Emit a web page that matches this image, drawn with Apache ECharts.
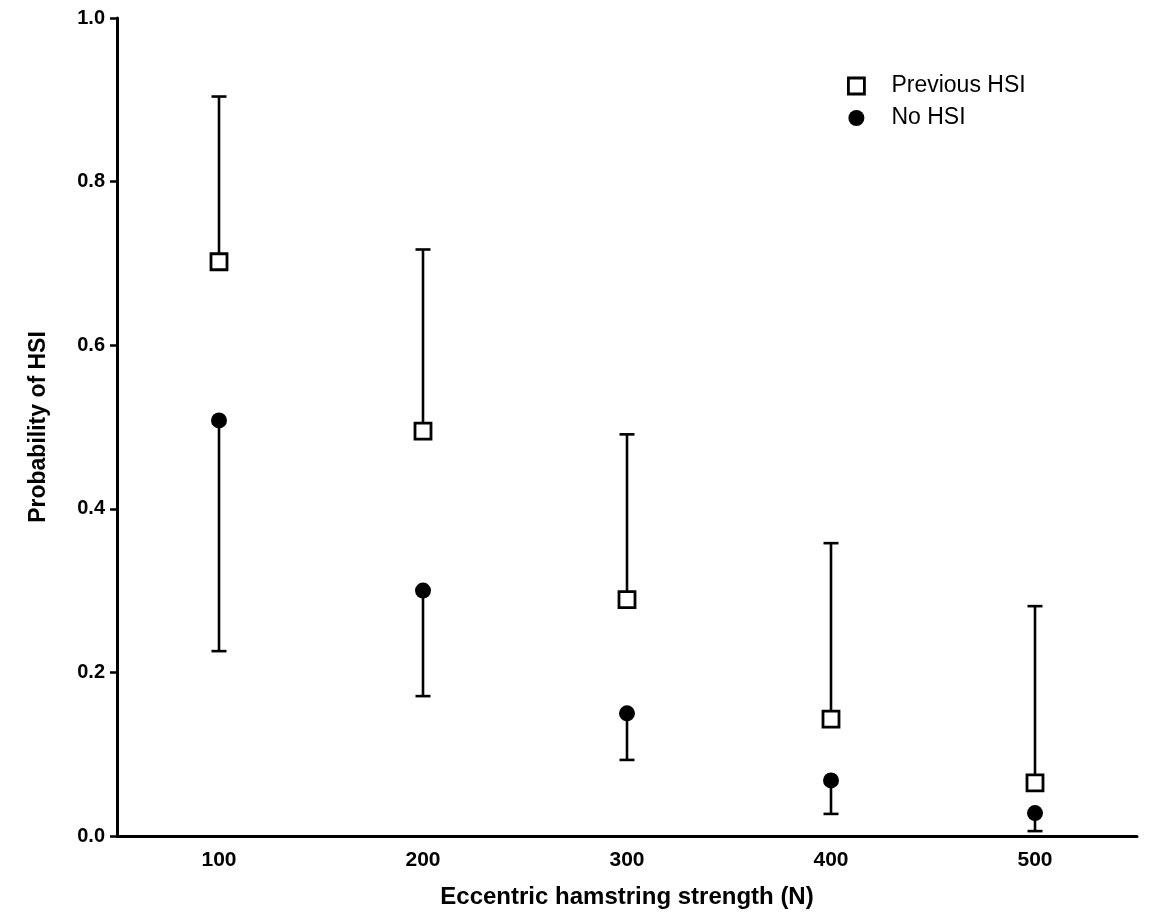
<!DOCTYPE html>
<html>
<head>
<meta charset="utf-8">
<script src="https://cdn.jsdelivr.net/npm/echarts@6/dist/echarts.min.js"></script>
<style>
html,body{margin:0;padding:0;background:#fff;}
#chart{width:1149px;height:922px;}
</style>
</head>
<body>
<div id="chart"></div>
<script>
// ---- data ----
const categories = ['100', '200', '300', '400', '500'];
const prevHSI = [0.702, 0.495, 0.289, 0.143, 0.065];
const prevHSIUpper = [0.904, 0.717, 0.491, 0.358, 0.281];
const noHSI = [0.508, 0.300, 0.150, 0.068, 0.028];
const noHSILower = [0.226, 0.171, 0.093, 0.027, 0.006];
const yTicks = [0, 0.2, 0.4, 0.6, 0.8, 1.0];
const seriesNames = ['Previous HSI', 'No HSI'];
const xTitle = 'Eccentric hamstring strength (N)';
const yTitle = 'Probability of HSI';

const chart = echarts.init(document.getElementById('chart'), null, {renderer: 'canvas'});
const FONT = '"Liberation Sans", Arial, Helvetica, sans-serif';

function errData(vals, bounds) {
  return vals.map((v, i) => [i, v, bounds[i]]);
}
function errRender(params, api) {
  const x = api.value(0);
  const p0 = api.coord([x, api.value(1)]);
  const p1 = api.coord([x, api.value(2)]);
  const half = 7.5;
  const style = {stroke: '#000', lineWidth: 2.6, fill: null};
  return {
    type: 'group',
    children: [
      {type: 'line', shape: {x1: p0[0], y1: p0[1], x2: p1[0], y2: p1[1]}, style: style},
      {type: 'line', shape: {x1: p1[0] - half, y1: p1[1], x2: p1[0] + half, y2: p1[1]}, style: style}
    ]
  };
}

chart.setOption({
  animation: false,
  backgroundColor: '#fff',
  grid: {left: 117, right: 12, top: 18, bottom: 86, containLabel: false},
  legend: {
    orient: 'vertical',
    left: 847,
    top: 74,
    padding: 0,
    itemGap: 8,
    itemWidth: 16,
    itemHeight: 16,
    textStyle: {fontFamily: FONT, fontSize: 23, lineHeight: 24, color: '#000', padding: [0, 0, 0, 22]},
    data: [
      {name: seriesNames[0], icon: 'rect', itemStyle: {color: '#fff', borderColor: '#000', borderWidth: 2.8}},
      {name: seriesNames[1], icon: 'circle', itemStyle: {color: '#000', borderWidth: 0}}
    ]
  },
  xAxis: {
    type: 'category',
    data: categories,
    boundaryGap: true,
    name: xTitle,
    nameLocation: 'middle',
    nameGap: 49,
    nameTextStyle: {fontFamily: FONT, fontWeight: 'bold', fontSize: 24, color: '#000'},
    axisLine: {lineStyle: {color: '#000', width: 3}},
    axisTick: {alignWithLabel: true, length: 7, lineStyle: {color: '#000', width: 2.5}},
    axisLabel: {fontFamily: FONT, fontWeight: 'bold', fontSize: 21, color: '#000', margin: 14},
    splitLine: {show: false}
  },
  yAxis: {
    type: 'value',
    min: yTicks[0],
    max: yTicks[yTicks.length - 1],
    interval: 0.2,
    name: yTitle,
    nameLocation: 'middle',
    nameGap: 67,
    nameTextStyle: {fontFamily: FONT, fontWeight: 'bold', fontSize: 23, color: '#000'},
    axisLine: {show: true, lineStyle: {color: '#000', width: 3}},
    axisTick: {show: true, length: 7, lineStyle: {color: '#000', width: 2.5}},
    axisLabel: {fontFamily: FONT, fontWeight: 'bold', fontSize: 20, color: '#000', margin: 12,
      formatter: v => v.toFixed(1)},
    splitLine: {show: false}
  },
  series: [
    {
      name: seriesNames[0] + ' err', type: 'custom', renderItem: errRender,
      data: errData(prevHSI, prevHSIUpper), z: 2, silent: true
    },
    {
      name: seriesNames[1] + ' err', type: 'custom', renderItem: errRender,
      data: errData(noHSI, noHSILower), z: 2, silent: true
    },
    {
      name: seriesNames[0], type: 'scatter', data: prevHSI, symbol: 'rect', symbolSize: 16,
      itemStyle: {color: '#fff', borderColor: '#000', borderWidth: 2.8, opacity: 1}, z: 5
    },
    {
      name: seriesNames[1], type: 'scatter', data: noHSI, symbol: 'circle', symbolSize: 16,
      itemStyle: {color: '#000', opacity: 1}, z: 5
    }
  ]
});
</script>
</body>
</html>
